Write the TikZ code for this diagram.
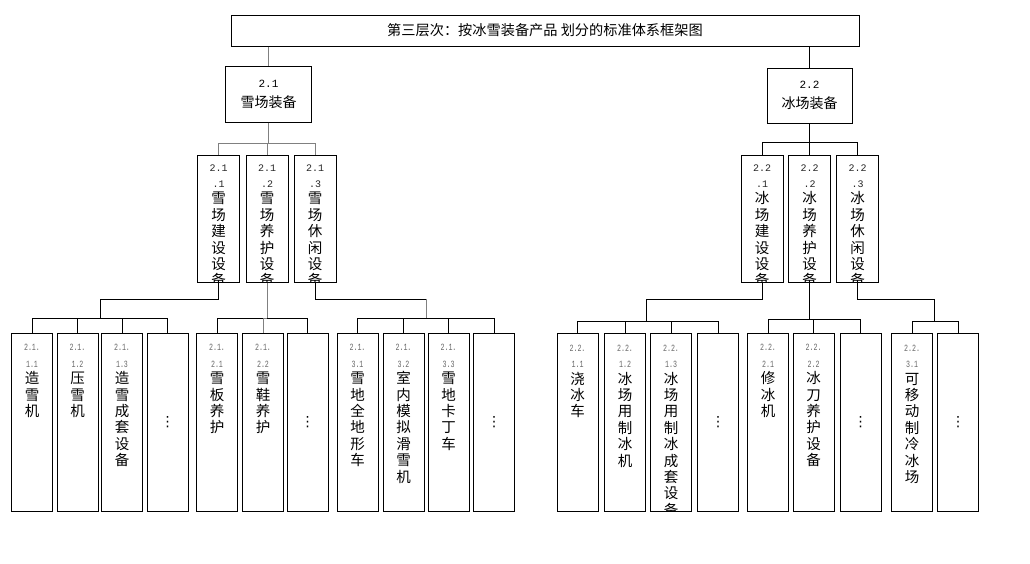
\documentclass[tikz,border=0pt]{standalone}
\usepackage{fontspec}
\usepackage{graphicx}
\setmainfont{Noto Sans CJK SC}
\setmonofont{Liberation Mono}
\newfontfamily\symfont{DejaVu Sans}
\usetikzlibrary{calc}

\newcommand{\hnum}[1]{{\ttfamily\fontsize{11}{12}\selectfont #1}}
\newcommand{\mnum}[1]{{\ttfamily\fontsize{10}{12}\selectfont\color{black!85}#1}}
\newcommand{\snum}[1]{\scalebox{0.7}[1]{\ttfamily\fontsize{9.5}{10}\selectfont\color{black!60}#1}}
\newcommand{\vdot}{{\symfont\fontsize{14}{16}\selectfont ⋮}}

\tikzset{
  frame/.style={draw, line width=1pt, inner sep=0pt},
  head/.style={frame, minimum width=86pt, minimum height=56pt, align=center,
    font=\fontsize{14}{20}\selectfont},
  mid/.style={frame, minimum width=42pt, minimum height=127pt},
  leaf/.style={frame, minimum width=41pt, minimum height=178pt},
  cliptext/.style 2 args={path picture={\node[draw=none, minimum width=0pt, minimum height=0pt,
    anchor=north, inner sep=0pt, align=center, font=\fontsize{14.5}{16.4}\selectfont]
    at ([yshift=-#1]path picture bounding box.north) {#2};}},
  link/.style={line width=1pt},
  glink/.style={line width=1pt, black!50},
}

\begin{document}
\begin{tikzpicture}[x=1pt, y=-1pt]
\useasboundingbox (0,0) rectangle (1030,563);
% the title and the two branches
\node[frame, minimum width=628pt, minimum height=31pt, font=\fontsize{14.2}{16}\selectfont]
  (top) at (545,30.5) {第三层次：按冰雪装备产品 划分的标准体系框架图};
\node[head] (n21) at (268.5,94) {\hnum{2.1}\\雪场装备};
\node[head, minimum width=85pt, minimum height=55pt] (n22) at (809.5,95.5) {\hnum{2.2}\\冰场装备};

% second level (text runs past the bottom of the box)
\node[mid, cliptext={9pt}{\mnum{2.1}\\\mnum{.1}\\雪\\场\\建\\设\\设\\备}] (n211) at (218.5,218.5) {};
\node[mid, cliptext={9pt}{\mnum{2.1}\\\mnum{.2}\\雪\\场\\养\\护\\设\\备}] (n212) at (267,218.5) {};
\node[mid, cliptext={9pt}{\mnum{2.1}\\\mnum{.3}\\雪\\场\\休\\闲\\设\\备}] (n213) at (315,218.5) {};
\node[mid, cliptext={9pt}{\mnum{2.2}\\\mnum{.1}\\冰\\场\\建\\设\\设\\备}] (n221) at (762,218.5) {};
\node[mid, cliptext={9pt}{\mnum{2.2}\\\mnum{.2}\\冰\\场\\养\\护\\设\\备}] (n222) at (809.5,218.5) {};
\node[mid, cliptext={9pt}{\mnum{2.2}\\\mnum{.3}\\冰\\场\\休\\闲\\设\\备}] (n223) at (857.5,218.5) {};

% snow leaves
\node[leaf, cliptext={11pt}{\snum{2.1.}\\\snum{1.1}\\造\\雪\\机}] (l2111) at (32,422) {};
\node[leaf, cliptext={11pt}{\snum{2.1.}\\\snum{1.2}\\压\\雪\\机}] (l2112) at (77.5,422) {};
\node[leaf, cliptext={11pt}{\snum{2.1.}\\\snum{1.3}\\造\\雪\\成\\套\\设\\备}] (l2113) at (122,422) {};
\node[leaf] (l2114) at (167.5,422) {\vdot};
\node[leaf, cliptext={11pt}{\snum{2.1.}\\\snum{2.1}\\雪\\板\\养\\护}] (l2121) at (217,422) {};
\node[leaf, cliptext={11pt}{\snum{2.1.}\\\snum{2.2}\\雪\\鞋\\养\\护}] (l2122) at (263,422) {};
\node[leaf] (l2123) at (307.5,422) {\vdot};
\node[leaf, cliptext={11pt}{\snum{2.1.}\\\snum{3.1}\\雪\\地\\全\\地\\形\\车}] (l2131) at (357.5,422) {};
\node[leaf, cliptext={11pt}{\snum{2.1.}\\\snum{3.2}\\室\\内\\模\\拟\\滑\\雪\\机}] (l2132) at (403.5,422) {};
\node[leaf, cliptext={11pt}{\snum{2.1.}\\\snum{3.3}\\雪\\地\\卡\\丁\\车}] (l2133) at (448.5,422) {};
\node[leaf] (l2134) at (494,422) {\vdot};

% ice leaves
\node[leaf, cliptext={11pt}{\snum{2.2.}\\\snum{1.1}\\浇\\冰\\车}] (l2211) at (577.5,422.5) {};
\node[leaf, cliptext={11pt}{\snum{2.2.}\\\snum{1.2}\\冰\\场\\用\\制\\冰\\机}] (l2212) at (625,422.5) {};
\node[leaf, cliptext={11pt}{\snum{2.2.}\\\snum{1.3}\\冰\\场\\用\\制\\冰\\成\\套\\设\\备}] (l2213) at (671,422.5) {};
\node[leaf] (l2214) at (718,422.5) {\vdot};
\node[leaf, cliptext={11pt}{\snum{2.2.}\\\snum{2.1}\\修\\冰\\机}] (l2221) at (768,422) {};
\node[leaf, cliptext={11pt}{\snum{2.2.}\\\snum{2.2}\\冰\\刀\\养\\护\\设\\备}] (l2222) at (813.5,422) {};
\node[leaf] (l2223) at (860.5,422) {\vdot};
\node[leaf, cliptext={11pt}{\snum{2.2.}\\\snum{3.1}\\可\\移\\动\\制\\冷\\冰\\场}] (l2231) at (912,422.5) {};
\node[leaf] (l2232) at (958,422.5) {\vdot};

% title down to the branches
\draw[glink] (n21.north |- top.south) -- (n21.north);
\draw[link] (n22.north |- top.south) -- (n22.north);

% branches down to second level
\path (n21.south) ++(0,21) coordinate (b21);
\path (n22.south) ++(0,19) coordinate (b22);
\draw[glink] (n21.south) -- (b21);
\foreach \c in {n211,n212,n213} \draw[glink] (b21) -| (\c.north);
\draw[link] (n22.south) -- (b22);
\foreach \c in {n221,n222,n223} \draw[link] (b22) -| (\c.north);

% second level down to the leaves
\coordinate (k211) at (100,299); \coordinate (j211) at (100,318);
\draw[link] (n211.south) |- (k211) -- (j211);
\foreach \l in {l2111,l2112,l2113,l2114} \draw[link] (j211) -| (\l.north);

\path (n212.south) ++(0,36) coordinate (j212);
\draw[glink] (n212.south) -- (j212);
\foreach \l in {l2121,l2123} \draw[link] (j212) -| (\l.north);
\draw[glink] (j212) -| (l2122.north);

\coordinate (k213) at (426,299); \coordinate (j213) at (426,318);
\draw[link] (n213.south) |- (k213);
\draw[glink] (k213) -- (j213);
\foreach \l in {l2131,l2132,l2133,l2134} \draw[link] (j213) -| (\l.north);

\coordinate (k221) at (646,299); \coordinate (j221) at (646,321);
\draw[link] (n221.south) |- (k221) -- (j221);
\foreach \l in {l2211,l2212,l2213,l2214} \draw[link] (j221) -| (\l.north);

\path (n222.south) ++(0,37) coordinate (j222);
\draw[link] (n222.south) -- (j222);
\foreach \l in {l2221,l2222,l2223} \draw[link] (j222) -| (\l.north);

\coordinate (k223) at (934,299); \coordinate (j223) at (934,321);
\draw[link] (n223.south) |- (k223) -- (j223);
\foreach \l in {l2231,l2232} \draw[link] (j223) -| (\l.north);
\end{tikzpicture}
\end{document}
